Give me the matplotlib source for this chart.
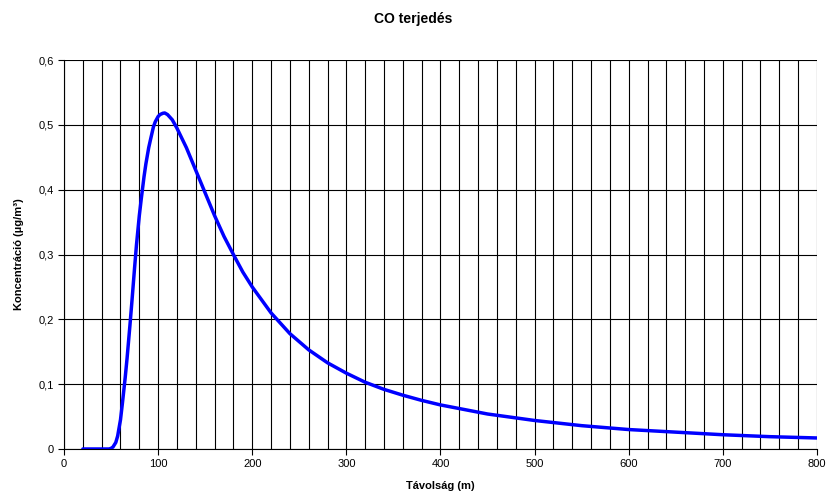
import matplotlib
matplotlib.use("Agg")
import matplotlib.pyplot as plt
from matplotlib.ticker import FuncFormatter, MultipleLocator

plt.rcParams['font.family'] = ['Liberation Sans', 'DejaVu Sans']

# Távolság (m) és koncentráció (µg/m3) - leolvasott értékek
tavolsag = [20, 30, 40, 48, 50, 52, 55, 57, 60, 62, 65, 67, 70, 72, 75, 77,
            80, 82, 85, 87, 90, 92, 95, 97, 100, 102, 105, 107, 110, 115, 120,
            130, 140, 150, 160, 170, 180, 190, 200, 220, 240, 260, 280, 300,
            320, 340, 360, 380, 400, 450, 500, 550, 600, 650, 700, 750, 800]
koncentracio = [0, 0, 0, 0, 0.001, 0.003, 0.01, 0.02, 0.045, 0.07, 0.11, 0.14,
                0.19, 0.225, 0.28, 0.315, 0.36, 0.385, 0.42, 0.44, 0.465,
                0.478, 0.497, 0.505, 0.513, 0.516, 0.518, 0.5185, 0.516, 0.508,
                0.495, 0.465, 0.43, 0.395, 0.36, 0.328, 0.30, 0.273, 0.25,
                0.21, 0.178, 0.153, 0.133, 0.117, 0.103, 0.092, 0.083, 0.075,
                0.068, 0.054, 0.044, 0.036, 0.030, 0.026, 0.022, 0.019, 0.017]

fig = plt.figure(figsize=(8.26, 4.97), dpi=100)
ax = fig.add_axes([0.0775, 0.0966, 0.9115, 0.7824])

ax.plot(tavolsag, koncentracio, color='#0000FF', lw=2.5,
        solid_capstyle='round', solid_joinstyle='round', zorder=3)

ax.set_xlim(0, 800)
ax.set_ylim(0, 0.6)
ax.xaxis.set_major_locator(MultipleLocator(100))
ax.xaxis.set_minor_locator(MultipleLocator(20))
ax.yaxis.set_major_locator(MultipleLocator(0.1))
ax.yaxis.set_major_formatter(FuncFormatter(
    lambda v, p: '0' if abs(v) < 1e-9 else f'{v:.1f}'.replace('.', ',')))

ax.grid(True, which='both', axis='x', color='black', lw=0.8)
ax.grid(True, which='major', axis='y', color='black', lw=0.8)
ax.tick_params(axis='both', which='major', labelsize=8, length=4, width=0.8, color='black')
ax.tick_params(axis='x', which='minor', length=0)

for side in ['top', 'right']:
    ax.spines[side].set_visible(False)
for side in ['left', 'bottom']:
    ax.spines[side].set_linewidth(0.8)

ax.set_xlabel('Távolság (m)', fontsize=8, fontweight='bold', labelpad=8)
ax.set_ylabel('Koncentráció (µg/m³)', fontsize=8, fontweight='bold', labelpad=10)
fig.suptitle('CO terjedés', fontsize=10, fontweight='bold', y=0.975)

fig.savefig('out.png', dpi=100)
